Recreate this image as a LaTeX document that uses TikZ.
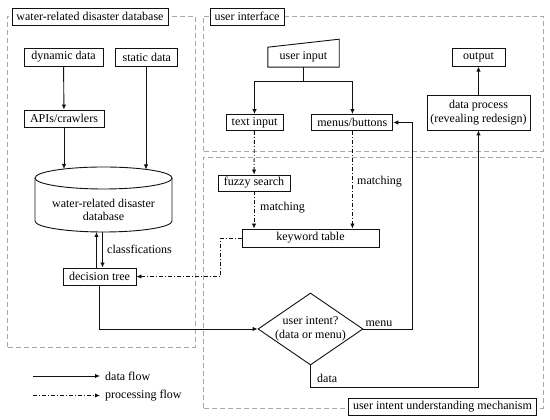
\documentclass[tikz,border=0pt]{standalone}
\usepackage{fontspec}
\setmainfont{Liberation Serif}
\newfontfamily\diagramfont{Liberation Serif}
\usetikzlibrary{arrows.meta,positioning,shapes.geometric}
\definecolor{regiongray}{HTML}{A8A8A8}
\definecolor{ink}{HTML}{111111}

\begin{document}
\begin{tikzpicture}[
  x=1pt, y=1pt,
  font=\diagramfont\fontsize{12}{13.5}\selectfont,
  >=Latex,
  box/.style={draw=ink, line width=0.9pt, inner sep=0pt, align=center, minimum height=17pt},
  region/.style={draw=regiongray, line width=0.8pt, dash pattern=on 5pt off 3pt},
  tag/.style={draw=ink, fill=white, line width=0.9pt, inner xsep=4.5pt, inner ysep=0pt, minimum height=17pt},
  flow/.style={-{Latex[length=5pt,width=4.5pt]}, draw=ink, line width=0.9pt},
  proc/.style={flow, dash pattern=on 4pt off 2pt on 1pt off 2pt},
  lbl/.style={inner sep=1pt, anchor=west}
]
\useasboundingbox (0,0) rectangle (550,420);

\draw[region] (7,73) rectangle (195,404);
\draw[region] (203,269) rectangle (543,404);
\draw[region] (203,12) rectangle (543,263);

\node[box, minimum width=79pt, minimum height=18pt] (dyn) at (63.5,363) {dynamic data};
\node[box, minimum width=62pt, minimum height=18pt, right=12pt of dyn] (static) {static data};
\node[box, minimum width=80pt] (apis) at (64,301.5) {APIs/crawlers};

\node[minimum width=137pt, minimum height=65pt, inner sep=0pt] (db) at (103.5,220.5) {};
\coordinate (dbtop) at (103.5,242);
\coordinate (dbbot) at (103.5,199);
\draw[draw=ink, line width=0.9pt] (dbtop) ellipse[x radius=68.5, y radius=11];
\draw[draw=ink, line width=0.9pt] ([xshift=-68.5pt]dbtop) -- ([xshift=-68.5pt]dbbot)
  arc[start angle=180, end angle=360, x radius=68.5, y radius=11] -- ([xshift=68.5pt]dbtop);
\node[align=center] (dbtext) at (103.5,210) {water-related disaster\\database};
\coordinate (dbinA) at (64,251);
\coordinate (dbinB) at (146,250.5);
\coordinate (dbup) at (96.5,188);
\coordinate (dbdown) at (102.5,188);

\node[box, minimum width=73pt] (dtree) at (99.5,143.5) {decision tree};
\node[lbl] (cls) at (106,171) {classfications};

\node[minimum width=71pt, minimum height=20pt, inner sep=0pt] (uin) at (303.5,363) {user input};
\draw[draw=ink, line width=0.9pt] (uin.south west) -- ++(0,20) -- ([yshift=28pt]uin.south east) -- (uin.south east) -- cycle;

\node[box, minimum width=57pt, minimum height=16pt] (tinput) at (254.5,297.5) {text input};
\node[box, minimum width=81pt, minimum height=16pt, right=28pt of tinput] (menus) {menus/buttons};
\node[box, minimum width=103pt, minimum height=35pt] (dproc) at (478.5,307.5) {data process\\(revealing redesign)};
\node[box, minimum width=53pt, minimum height=18pt, above=28pt of dproc] (output) {output};

\node[box, minimum width=72pt, minimum height=16pt] (fuzzy) at (254,237) {fuzzy search};
\node[box, minimum width=137pt, minimum height=18pt] (kw) at (310.5,182) {keyword table};
\node[lbl] (match1) at (259,212) {matching};
\node[lbl] (match2) at (356,238) {matching};

\node[draw=ink, line width=0.9pt, diamond, aspect=1.46, inner sep=-2pt, minimum width=105pt,
  minimum height=72pt, align=center] (intent) at (310.5,91) {user intent?\\(data or menu)};
\node[lbl, inner sep=2pt, anchor=south west] (menulbl) at (intent.east) {menu};
\node[lbl] (datalbl) at (316,42) {data};

\draw[flow] (dyn) -- (apis);
\draw[flow] (apis) -- (dbinA);
\draw[flow] (static.south -| dbinB) -- (dbinB);
\draw[flow] ([xshift=-3pt]dtree.north) -- (dbup);
\draw[flow] (dbdown) -- ([xshift=3pt]dtree.north);
\draw[flow] (dtree.south) |- (intent.west);
\draw[flow] (intent.east) -- ++(49,0) |- (menus.east);
\draw[flow] (intent.south) -- ++(0,-22) -| (dproc.south);
\draw[flow] (dproc) -- (output);
\foreach \t in {tinput,menus}
  \draw[flow] (uin.south) -- ++(0,-14) -| (\t);

\draw[proc] (tinput) -- (fuzzy);
\draw[proc] (fuzzy) -- (fuzzy |- kw.north);
\draw[proc] (menus) -- (menus |- kw.north);
\draw[proc] (kw.west) -- ++(-21,0) |- (dtree.east);

\node[tag] (dbtag) at (90,403.5) {water-related disaster database};
\node[tag] (uitag) at (247,403.5) {user interface};
\node[tag] (intenttag) at (442.5,13.5) {user intent understanding mechanism};

\coordinate (legA) at (33,44);
\coordinate (legB) at (33,24.5);
\node[lbl, inner xsep=5pt] (legdata) at (100,44) {data flow};
\node[lbl, inner xsep=5pt] (legproc) at (100,24.5) {processing flow};
\draw[flow] (legA) -- (legdata);
\draw[proc] (legB) -- (legproc);

\end{tikzpicture}
\end{document}
